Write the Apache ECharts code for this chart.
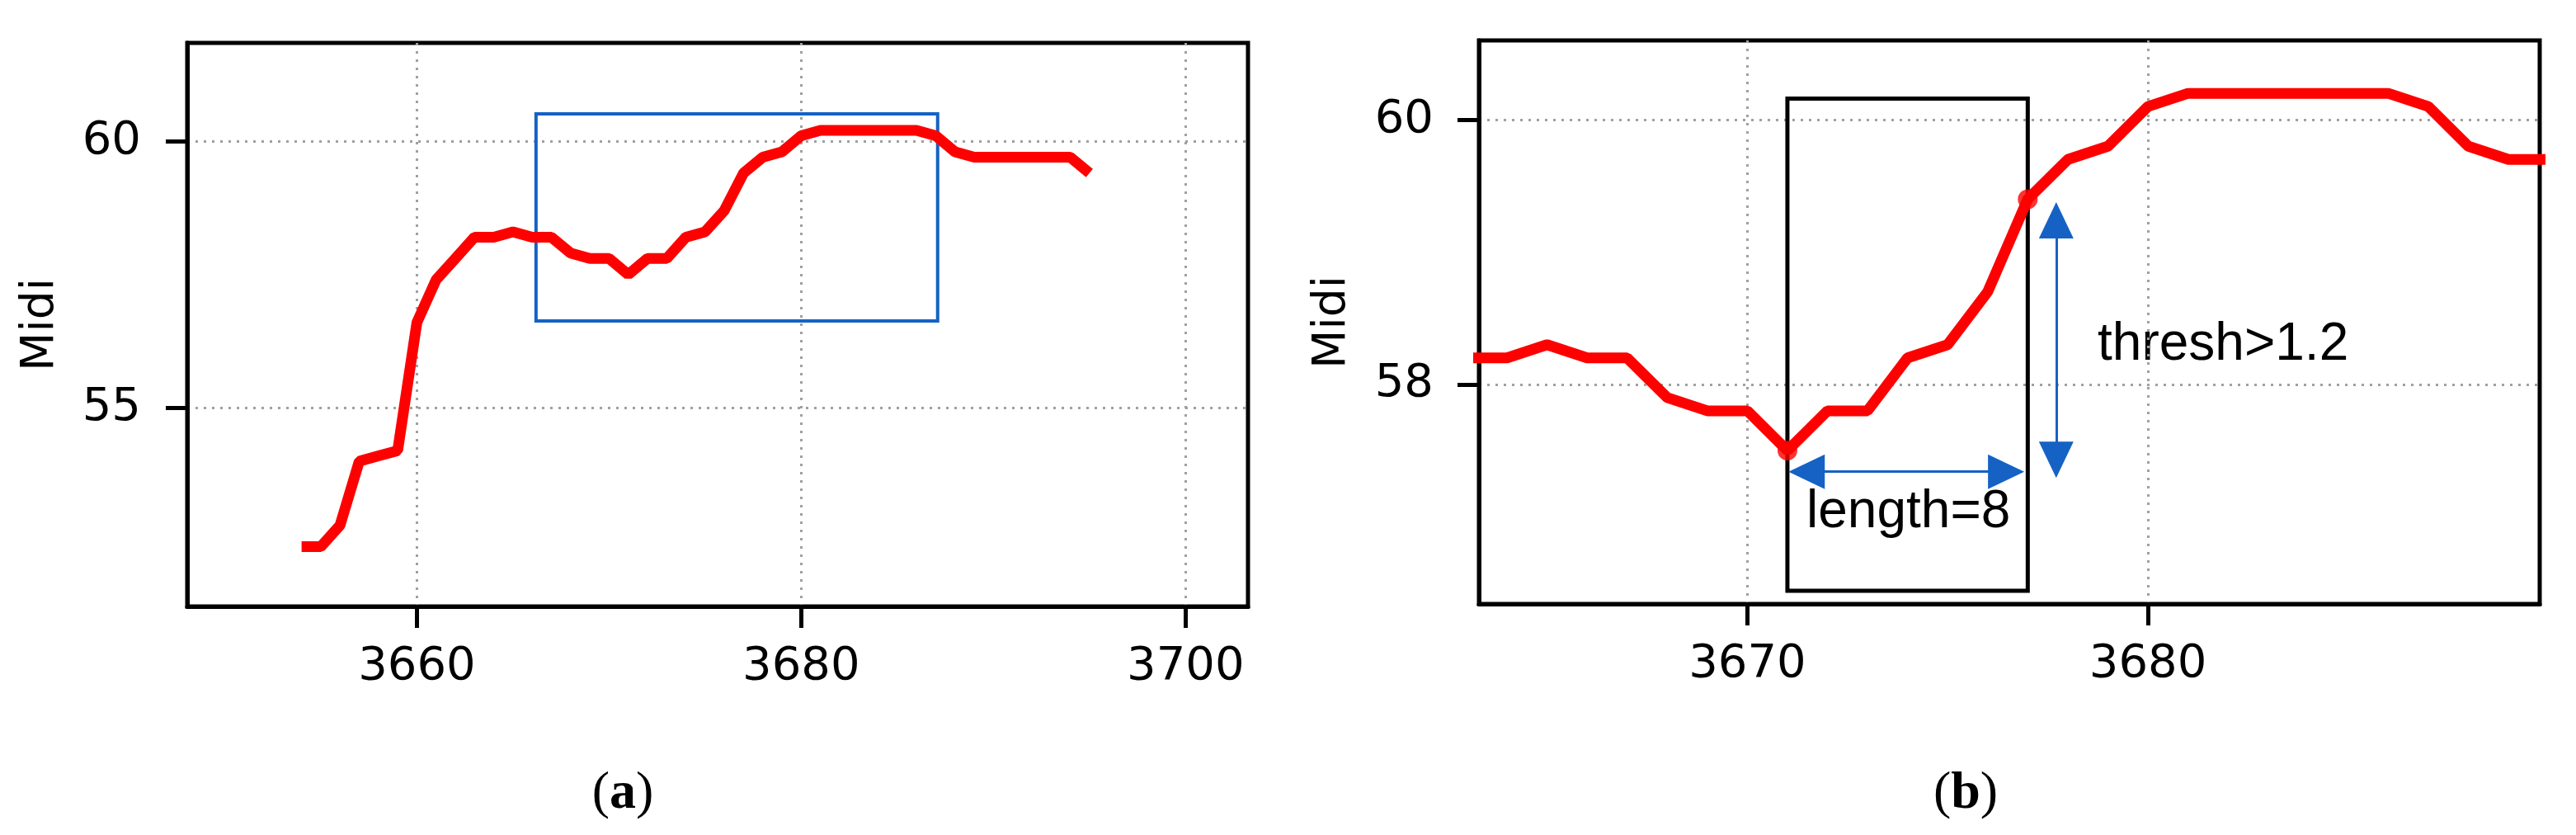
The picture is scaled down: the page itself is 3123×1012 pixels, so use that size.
<!DOCTYPE html>
<html>
<head>
<meta charset="utf-8">
<style>
  html, body { margin: 0; padding: 0; background: #fff; }
  #chart { width: 3123px; height: 1012px; }
</style>
<script src="https://cdn.jsdelivr.net/npm/echarts@6/dist/echarts.min.js"></script>
</head>
<body>
<div id="chart"></div>
<script>
// frame numbers and the midi pitch
var frames = [3654, 3655, 3656, 3657, 3658, 3659, 3660, 3661, 3662, 3663,
  3664, 3665, 3666, 3667, 3668, 3669, 3670, 3671, 3672, 3673,
  3674, 3675, 3676, 3677, 3678, 3679, 3680, 3681, 3682, 3683,
  3684, 3685, 3686, 3687, 3688, 3689, 3690, 3691, 3692, 3693,
  3694, 3695];
var midi = [52.4, 52.4, 52.8, 54.0, 54.1, 54.2, 56.6, 57.4, 57.8, 58.2,
  58.2, 58.3, 58.2, 58.2, 57.9, 57.8, 57.8, 57.5, 57.8, 57.8,
  58.2, 58.3, 58.7, 59.4, 59.7, 59.8, 60.1, 60.2, 60.2, 60.2,
  60.2, 60.2, 60.2, 60.1, 59.8, 59.7, 59.7, 59.7, 59.7, 59.7,
  59.7, 59.4];

// tick values
var xTicksA = [3660, 3680, 3700];
var yTicksA = [55, 60];
var xTicksB = [3670, 3680];
var yTicksB = [58, 60];

// segment found in (b): start / end frame
var segFrames = [3671, 3677];

var RED = '#ff0000';
var BLUE = '#1562c4';

var points = frames.map(function (f, i) { return [f, midi[i]]; });
var segPoints = segFrames.map(function (f) { return [f, midi[frames.indexOf(f)]]; });

function xAxis(idx, min, max, ticks) {
  return {
    type: 'value', gridIndex: idx, min: min, max: max,
    axisLine: { show: true, onZero: false, lineStyle: { color: '#000', width: 5 } },
    axisTick: { show: true, length: 26, customValues: ticks, lineStyle: { color: '#000', width: 5 } },
    axisLabel: {
      customValues: ticks, margin: 45, color: '#000', fontSize: 56, fontFamily: 'DejaVu Sans',
      formatter: function (v) { return String(v); }
    },
    splitLine: { show: true, lineStyle: { type: [3, 7], width: 3, color: '#a0a0a0' } }
  };
}

function yAxis(idx, min, max, ticks, labelMargin) {
  return {
    type: 'value', gridIndex: idx, min: min, max: max,
    name: 'Midi', nameLocation: 'middle', nameRotate: 90, nameGap: 150,
    nameTextStyle: { fontSize: 55, fontFamily: 'DejaVu Sans', color: '#000' },
    axisLine: { show: true, onZero: false, lineStyle: { color: '#000', width: 5 } },
    axisTick: { show: true, length: 26, customValues: ticks, lineStyle: { color: '#000', width: 5 } },
    axisLabel: {
      customValues: ticks, margin: labelMargin, color: '#000', fontSize: 56, fontFamily: 'DejaVu Sans',
      formatter: function (v) { return String(v); }
    },
    splitLine: { show: true, lineStyle: { type: [3, 7], width: 3, color: '#a0a0a0' } }
  };
}

var option = {
  animation: false,
  backgroundColor: '#fff',
  grid: [
    { left: 227, top: 52, width: 1286, height: 683, show: true, borderColor: '#000', borderWidth: 5, outerBoundsMode: 'none' },
    { left: 1793, top: 49, width: 1286, height: 683, show: true, borderColor: '#000', borderWidth: 5, outerBoundsMode: 'none' }
  ],
  xAxis: [
    xAxis(0, 3648.05, 3703.25, xTicksA),
    xAxis(1, 3663.3, 3689.78, xTicksB)
  ],
  yAxis: [
    yAxis(0, 51.28, 61.84, yTicksA, 56),
    yAxis(1, 56.34, 60.6, yTicksB, 55)
  ],
  series: [
    {
      type: 'line', xAxisIndex: 0, yAxisIndex: 0, data: points,
      showSymbol: false, lineStyle: { color: RED, width: 13 }, z: 3,
      markArea: {
        silent: true,
        itemStyle: { color: 'rgba(0,0,0,0)', borderColor: BLUE, borderWidth: 4 },
        data: [[{ coord: [3666.2, 60.51] }, { coord: [3687.1, 56.63] }]]
      }
    },
    {
      type: 'line', xAxisIndex: 1, yAxisIndex: 1, data: points,
      showSymbol: false, lineStyle: { color: RED, width: 13 }, z: 3
    },
    {
      type: 'scatter', xAxisIndex: 1, yAxisIndex: 1, data: segPoints,
      symbolSize: 24, itemStyle: { color: RED }, z: 4
    },
    {
      type: 'line', xAxisIndex: 1, yAxisIndex: 1, data: [], z: 5,
      markArea: {
        silent: true,
        itemStyle: { color: 'rgba(0,0,0,0)', borderColor: '#000', borderWidth: 5 },
        data: [[{ coord: [3671, 60.16] }, { coord: [3677, 56.44] }]]
      },
      markLine: {
        silent: true, animation: false,
        symbol: ['triangle', 'triangle'], symbolSize: [42, 44],
        label: { show: false },
        lineStyle: { color: BLUE, width: 3, type: 'solid' },
        itemStyle: { color: BLUE },
        data: [
          [{ coord: [3671.48, 57.34] }, { coord: [3676.46, 57.34] }],
          [{ coord: [3677.71, 59.24] }, { coord: [3677.71, 57.43] }]
        ]
      }
    }
  ],
  graphic: [
    { type: 'text', x: 2543, y: 418, style: { text: 'thresh>1.2', font: '64px "Liberation Sans"', fill: '#000', verticalAlign: 'middle' } },
    { type: 'text', x: 2190, y: 621, z: 10, style: { text: 'length=8', font: '64px "Liberation Sans"', fill: '#000', verticalAlign: 'middle' } },
    {
      type: 'text', x: 755, y: 962,
      style: {
        text: '{p|(}{b|a}{p|)}', align: 'center', verticalAlign: 'middle',
        rich: {
          p: { fontFamily: 'Liberation Serif', fontSize: 64, fill: '#000' },
          b: { fontFamily: 'Liberation Serif', fontSize: 64, fontWeight: 'bold', fill: '#000' }
        }
      }
    },
    {
      type: 'text', x: 2383, y: 962,
      style: {
        text: '{p|(}{b|b}{p|)}', align: 'center', verticalAlign: 'middle',
        rich: {
          p: { fontFamily: 'Liberation Serif', fontSize: 64, fill: '#000' },
          b: { fontFamily: 'Liberation Serif', fontSize: 64, fontWeight: 'bold', fill: '#000' }
        }
      }
    }
  ]
};

var chart = echarts.init(document.getElementById('chart'));
chart.setOption(option);
</script>
</body>
</html>
